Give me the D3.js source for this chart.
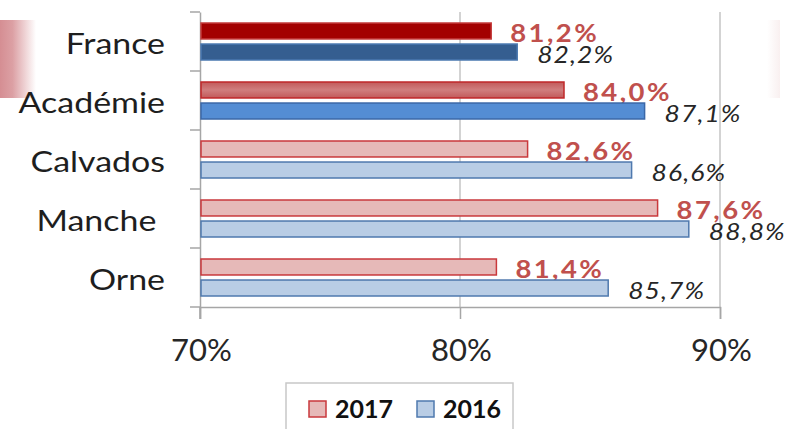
<!DOCTYPE html>
<html><head><meta charset="utf-8">
<script src="https://cdn.jsdelivr.net/npm/d3@7"></script>
<style>html,body{margin:0;padding:0;background:#fff;}svg{display:block;}</style>
</head><body>
<svg id="chart" width="792" height="429"></svg>
<script>
const categories = ["France", "Académie", "Calvados", "Manche", "Orne"];
const categoryLabels = ["France", "Académie", "Calvados", "Manche ", "Orne"];
const seriesNames = ["2017", "2016"];
const values2017 = [81.2, 84.0, 82.6, 87.6, 81.4];
const values2016 = [82.2, 87.1, 86.6, 88.8, 85.7];
const labels2017 = ["81,2%", "84,0%", "82,6%", "87,6%", "81,4%"];
const labels2016 = ["82,2%", "87,1%", "86,6%", "88,8%", "85,7%"];
const tickValues = [70, 80, 90];
const tickLabels = ["70%", "80%", "90%"];

const styles = {
  "2017": [
    {fill: "#a30000", stroke: "#c43a3a"},
    {fill: "url(#gradAcad17)", stroke: "#c0282a"},
    {fill: "#e6b9b8", stroke: "#c9393c"},
    {fill: "#e6b9b8", stroke: "#c9393c"},
    {fill: "#e6b9b8", stroke: "#c9393c"}
  ],
  "2016": [
    {fill: "#355e90", stroke: "#4a78b0"},
    {fill: "#548dd4", stroke: "#3b68a8"},
    {fill: "#b9cde5", stroke: "#4f79ae"},
    {fill: "#b9cde5", stroke: "#4f79ae"},
    {fill: "#b9cde5", stroke: "#4f79ae"}
  ]
};

const svg = d3.select("#chart");
const defs = svg.append("defs");
const g1 = defs.append("linearGradient").attr("id", "gradAcad17").attr("x1", 0).attr("y1", 0).attr("x2", 0).attr("y2", 1);
g1.append("stop").attr("offset", "0%").attr("stop-color", "#c25a5a");
g1.append("stop").attr("offset", "50%").attr("stop-color", "#d07e7e");
g1.append("stop").attr("offset", "100%").attr("stop-color", "#c25a5a");
const g2 = defs.append("linearGradient").attr("id", "leftFade").attr("x1", 0).attr("y1", 0).attr("x2", 1).attr("y2", 0);
g2.append("stop").attr("offset", "0%").attr("stop-color", "#d58e93");
g2.append("stop").attr("offset", "35%").attr("stop-color", "#dca0a4");
g2.append("stop").attr("offset", "100%").attr("stop-color", "#ffffff");
const g3 = defs.append("linearGradient").attr("id", "rightFade").attr("x1", 0).attr("y1", 0).attr("x2", 1).attr("y2", 0);
g3.append("stop").attr("offset", "0%").attr("stop-color", "#ffffff");
g3.append("stop").attr("offset", "100%").attr("stop-color", "#f9f0f0");

// decorative slide remnants
svg.append("rect").attr("x", 0).attr("y", 20).attr("width", 36).attr("height", 78).attr("fill", "url(#leftFade)");
svg.append("rect").attr("x", 767).attr("y", 20).attr("width", 13).attr("height", 78).attr("fill", "url(#rightFade)");

const x = d3.scaleLinear().domain([70, 90]).range([200, 720]);
const y = d3.scaleBand().domain(categories).range([12, 307]).padding(0);
const ySub = d3.scaleBand().domain(seriesNames).range([11, 48]).paddingInner(0.24).paddingOuter(0);

const font = "Lato, 'Open Sans', sans-serif";

// gridlines
svg.append("g").selectAll("line").data(tickValues.slice(1)).join("line")
  .attr("x1", d => x(d)).attr("x2", d => x(d))
  .attr("y1", 12).attr("y2", 307)
  .attr("stroke", "#c4c4c4").attr("stroke-width", 1.5);

// x axis
const xAxis = d3.axisBottom(x).tickValues(tickValues).tickFormat((d, i) => tickLabels[i]).tickSize(12).tickPadding(20);
const gx = svg.append("g").attr("transform", "translate(0,307)").call(xAxis);
gx.select(".domain").attr("stroke", "#a6a6a6").attr("stroke-width", 1.5);
gx.selectAll(".tick line").attr("stroke", "#a6a6a6").attr("stroke-width", 1.5);
gx.selectAll(".tick text").attr("font-family", font).attr("font-size", 31).attr("fill", "#262626")
  .attr("dy", "0.71em").attr("y", 32).attr("dx", 1);

// y axis
const yAxis = d3.axisLeft(y).tickValues([]).tickSizeOuter(0);
const gy = svg.append("g").attr("transform", "translate(200,0)").call(yAxis);
gy.select(".domain").attr("stroke", "#a6a6a6").attr("stroke-width", 1.5);
const boundaries = categories.map(c => y(c)).concat([y.range()[1]]);
svg.append("g").selectAll("line").data(boundaries).join("line")
  .attr("x1", 190).attr("x2", 200).attr("y1", d => d).attr("y2", d => d)
  .attr("stroke", "#a6a6a6").attr("stroke-width", 1.5);
svg.append("line").attr("x1", 200).attr("x2", 200).attr("y1", 307).attr("y2", 319)
  .attr("stroke", "#a6a6a6").attr("stroke-width", 1.5);

// category labels (slightly widened like the reference)
svg.append("g").selectAll("text").data(categories).join("text")
  .attr("transform", d => `translate(165,${y(d) + y.bandwidth() / 2 + 1}) scale(1.17,1)`)
  .attr("text-anchor", "end").attr("dominant-baseline", "central")
  .attr("font-family", font).attr("font-size", 29).attr("fill", "#1e1e1e")
  .style("white-space", "pre")
  .text((d, i) => categoryLabels[i]);

// bars
const series = [
  {name: "2017", values: values2017, labels: labels2017},
  {name: "2016", values: values2016, labels: labels2016}
];
series.forEach(s => {
  const is17 = s.name === "2017";
  const gs = svg.append("g");
  gs.selectAll("rect").data(categories).join("rect")
    .attr("x", x(70) + 1)
    .attr("y", d => y(d) + ySub(s.name))
    .attr("width", (d, i) => x(s.values[i]) - x(70) - 1)
    .attr("height", ySub.bandwidth())
    .attr("fill", (d, i) => styles[s.name][i].fill)
    .attr("stroke", (d, i) => styles[s.name][i].stroke)
    .attr("stroke-width", 1.5);
  gs.selectAll("text").data(categories).join("text")
    .attr("transform", (d, i) => `translate(${x(s.values[i]) + (is17 ? 19 : 20)},${y(d) + ySub(s.name) + ySub.bandwidth() / 2 + 1}) scale(1.1,1)`)
    .attr("dominant-baseline", "central")
    .attr("font-family", font)
    .attr("font-size", is17 ? 25 : 24)
    .attr("font-weight", is17 ? "bold" : "normal")
    .attr("font-style", is17 ? "normal" : "italic")
    .attr("letter-spacing", is17 ? 2.2 : 1)
    .attr("fill", is17 ? "#c0504d" : "#262626")
    .text((d, i) => s.labels[i]);
});

// legend
const lg = svg.append("g");
lg.append("rect").attr("x", 286).attr("y", 383).attr("width", 227).attr("height", 50)
  .attr("fill", "#fff").attr("stroke", "#c8c8c8").attr("stroke-width", 1.5);
const legendItems = [
  {name: "2017", x: 309, fill: "#e6b9b8", stroke: "#c9393c"},
  {name: "2016", x: 417, fill: "#b9cde5", stroke: "#4f79ae"}
];
legendItems.forEach(it => {
  lg.append("rect").attr("x", it.x).attr("y", 401).attr("width", 17).attr("height", 16)
    .attr("fill", it.fill).attr("stroke", it.stroke).attr("stroke-width", 1.5);
  lg.append("text").attr("x", it.x + 26).attr("y", 408).attr("dominant-baseline", "central")
    .attr("font-family", font).attr("font-size", 25).attr("font-weight", "bold").attr("fill", "#111")
    .text(it.name);
});
</script>
</body></html>
